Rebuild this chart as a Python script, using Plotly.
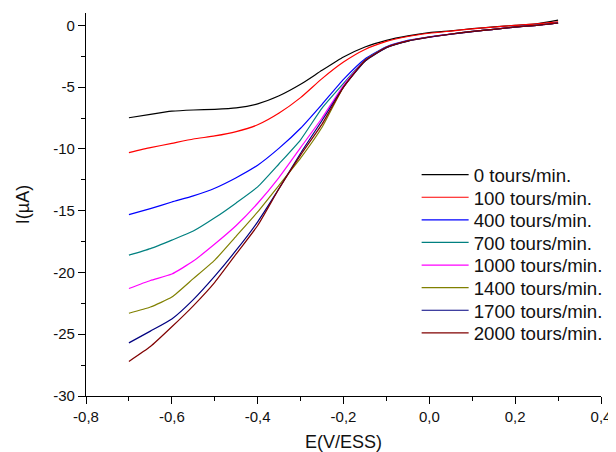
import plotly.graph_objects as go

E = [-0.7, -0.65, -0.6, -0.55, -0.5, -0.45, -0.4, -0.35, -0.3, -0.25, -0.2,
     -0.15, -0.1, -0.05, 0.0, 0.05, 0.1, 0.15, 0.2, 0.25, 0.3]

i_0 = [-7.48, -7.2, -6.95, -6.85, -6.8, -6.68, -6.35, -5.7, -4.77, -3.64, -2.56,
       -1.75, -1.21, -0.85, -0.59, -0.44, -0.27, -0.13, 0.0, 0.13, 0.42]
i_100 = [-10.3, -9.9, -9.55, -9.2, -8.95, -8.6, -8.05, -7.1, -5.85, -4.31, -2.97,
         -1.95, -1.3, -0.9, -0.64, -0.46, -0.28, -0.14, 0.0, 0.12, 0.28]
i_400 = [-15.32, -14.83, -14.3, -13.8, -13.18, -12.33, -11.32, -9.94, -8.33, -6.39, -4.37,
         -2.72, -1.74, -1.22, -0.93, -0.7, -0.49, -0.32, -0.13, 0.0, 0.2]
i_700 = [-18.6, -18.07, -17.38, -16.65, -15.58, -14.37, -13.07, -11.2, -9.26, -6.7, -4.7,
         -2.8, -1.76, -1.25, -0.94, -0.7, -0.49, -0.32, -0.13, 0.0, 0.19]
i_1000 = [-21.3, -20.65, -20.13, -19.08, -17.7, -16.2, -14.4, -12.3, -9.9, -7.5, -4.85,
          -2.85, -1.78, -1.26, -0.95, -0.71, -0.5, -0.32, -0.14, 0.0, 0.19]
i_1400 = [-23.3, -22.8, -21.99, -20.5, -19.0, -17.06, -15.1, -12.93, -10.75, -8.25, -5.0,
          -2.9, -1.8, -1.27, -0.95, -0.72, -0.5, -0.33, -0.14, 0.0, 0.19]
i_1700 = [-25.7, -24.75, -23.77, -22.2, -20.3, -18.2, -15.9, -13.2, -10.35, -7.7, -5.0,
          -2.9, -1.8, -1.27, -0.96, -0.72, -0.5, -0.33, -0.14, 0.0, 0.19]
i_2000 = [-27.2, -26.0, -24.4, -22.7, -20.8, -18.5, -16.2, -13.2, -10.5, -8.0, -5.0,
          -2.85, -1.77, -1.25, -0.94, -0.7, -0.49, -0.32, -0.13, 0.0, 0.2]

series_values = [i_0, i_100, i_400, i_700, i_1000, i_1400, i_1700, i_2000]
series_names = ["0 tours/min.", "100 tours/min.", "400 tours/min.", "700 tours/min.",
                "1000 tours/min.", "1400 tours/min.", "1700 tours/min.", "2000 tours/min."]
series_colors = ["#000000", "#FF0000", "#0000FF", "#008080",
                 "#FF00FF", "#808000", "#000080", "#800000"]

x_tick_vals = [-0.8, -0.6, -0.4, -0.2, 0.0, 0.2, 0.4]
x_tick_labels = ["-0,8", "-0,6", "-0,4", "-0,2", "0,0", "0,2", "0,4"]
y_tick_vals = [0, -5, -10, -15, -20, -25, -30]
y_tick_labels = ["0", "-5", "-10", "-15", "-20", "-25", "-30"]

FONT = "Liberation Sans"

# figure geometry (page has an 8px body margin)
FIG_W, FIG_H = 608, 444
M_L, M_R, M_T, M_B = 78, 15, 5, 56
PLOT_H = FIG_H - M_T - M_B

fig = go.Figure()
layout_legends = {}
for k, (name, vals, col) in enumerate(zip(series_names, series_values, series_colors)):
    key = "legend" if k == 0 else f"legend{k + 1}"
    fig.add_trace(go.Scatter(x=E, y=vals, mode="lines", name=name,
                             legend=key,
                             line=dict(color=col, width=1.2, shape="spline", smoothing=0.5)))
    center_page = 175 + 22.6 * k
    ypaper = (FIG_H - M_B - (center_page - 8)) / PLOT_H
    layout_legends[key] = dict(
        x=0.642, y=ypaper, xanchor="left", yanchor="middle",
        font=dict(family=FONT, size=18.7, color="#111111"),
        bgcolor="rgba(0,0,0,0)", borderwidth=0, itemwidth=47)

fig.update_layout(
    width=FIG_W, height=FIG_H,
    margin=dict(l=M_L, r=M_R, t=M_T, b=M_B, autoexpand=False),
    paper_bgcolor="white", plot_bgcolor="white",
    font=dict(family=FONT, size=15, color="#111111"),
    showlegend=True,
    xaxis=dict(range=[-0.8, 0.4], showgrid=False, zeroline=False,
               showline=True, linecolor="black", linewidth=1.3,
               ticks="outside", ticklen=7, tickwidth=1.3, tickcolor="black",
               tickvals=x_tick_vals, ticktext=x_tick_labels,
               tickfont=dict(size=15),
               minor=dict(dtick=0.1, ticks="outside", ticklen=4, tickwidth=1.3, tickcolor="black"),
               title=dict(text="E(V/ESS)", font=dict(size=18), standoff=11)),
    yaxis=dict(range=[-30, 1], showgrid=False, zeroline=False,
               showline=True, linecolor="black", linewidth=1.3,
               ticks="outside", ticklen=7, tickwidth=1.3, tickcolor="black",
               tickvals=y_tick_vals, ticktext=y_tick_labels,
               tickfont=dict(size=15),
               minor=dict(dtick=2.5, tick0=0, ticks="outside", ticklen=4, tickwidth=1.3, tickcolor="black"),
               title=dict(text="I(µA)", font=dict(size=18), standoff=18)),
    **layout_legends,
)

fig.write_html("out.html")
